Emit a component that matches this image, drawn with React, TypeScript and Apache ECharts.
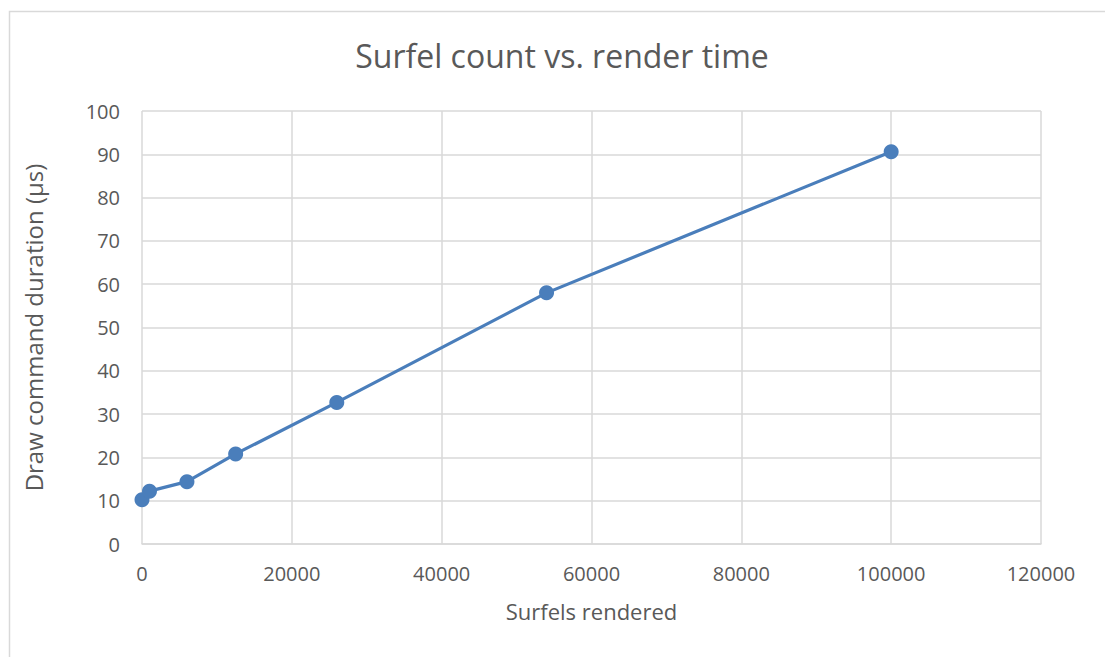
import React, { useEffect, useRef } from "react";
import * as echarts from "echarts";

const surfels = [0, 1000, 6000, 12500, 26000, 54000, 100000];
const durations = [10.2, 12.2, 14.4, 20.8, 32.7, 58.0, 90.6];
const titleText = "Surfel count vs. render time";
const xName = "Surfels rendered";
const yName = "Draw command duration (µs)";

const FONT = "'Open Sans', sans-serif";
const GREY = "#595959";

export default function App() {
  const ref = useRef<HTMLDivElement>(null);
  useEffect(() => {
    document.body.style.margin = "0";
    const chart = echarts.init(ref.current!, null, { renderer: "svg" });
    chart.setOption({
      animation: false,
      backgroundColor: "#ffffff",
      title: {
        text: titleText,
        left: 557,
        top: 34,
        textAlign: "center",
        textStyle: { fontFamily: FONT, fontSize: 32, fontWeight: "normal", color: GREY },
      },
      graphic: [
        {
          type: "rect",
          shape: { x: 9.5, y: 11.5, width: 1110, height: 660 },
          style: { fill: "none", stroke: "#d9d9d9", lineWidth: 1.5 },
          silent: true,
        },
      ],
      grid: { left: 142, right: 64, top: 111, bottom: 113 },
      xAxis: {
        type: "value",
        min: 0,
        max: 120000,
        interval: 20000,
        name: xName,
        nameLocation: "middle",
        nameGap: 56,
        nameTextStyle: { fontFamily: FONT, fontSize: 22, color: GREY },
        axisLine: { lineStyle: { color: "#d9d9d9", width: 1.5 } },
        axisTick: { show: false },
        axisLabel: {
          fontFamily: FONT,
          fontSize: 20,
          color: GREY,
          margin: 19,
          formatter: (v: number) => String(v),
        },
        splitLine: { show: true, lineStyle: { color: "#d9d9d9", width: 1.5 } },
      },
      yAxis: {
        type: "value",
        min: 0,
        max: 100,
        interval: 10,
        name: yName,
        nameLocation: "middle",
        nameGap: 97,
        nameTextStyle: { fontFamily: FONT, fontSize: 24, color: GREY },
        axisLine: { show: false },
        axisTick: { show: false },
        axisLabel: { fontFamily: FONT, fontSize: 20, color: GREY, margin: 22 },
        splitLine: { show: true, lineStyle: { color: "#d9d9d9", width: 1.5 } },
      },
      series: [
        {
          type: "line",
          data: surfels.map((s, i) => [s, durations[i]]),
          symbol: "circle",
          symbolSize: 15,
          lineStyle: { color: "#4a7ebb", width: 3.2 },
          itemStyle: { color: "#4a7ebb" },
        },
      ],
    });
    return () => chart.dispose();
  }, []);
  return <div ref={ref} style={{ width: 1105, height: 657 }} />;
}
